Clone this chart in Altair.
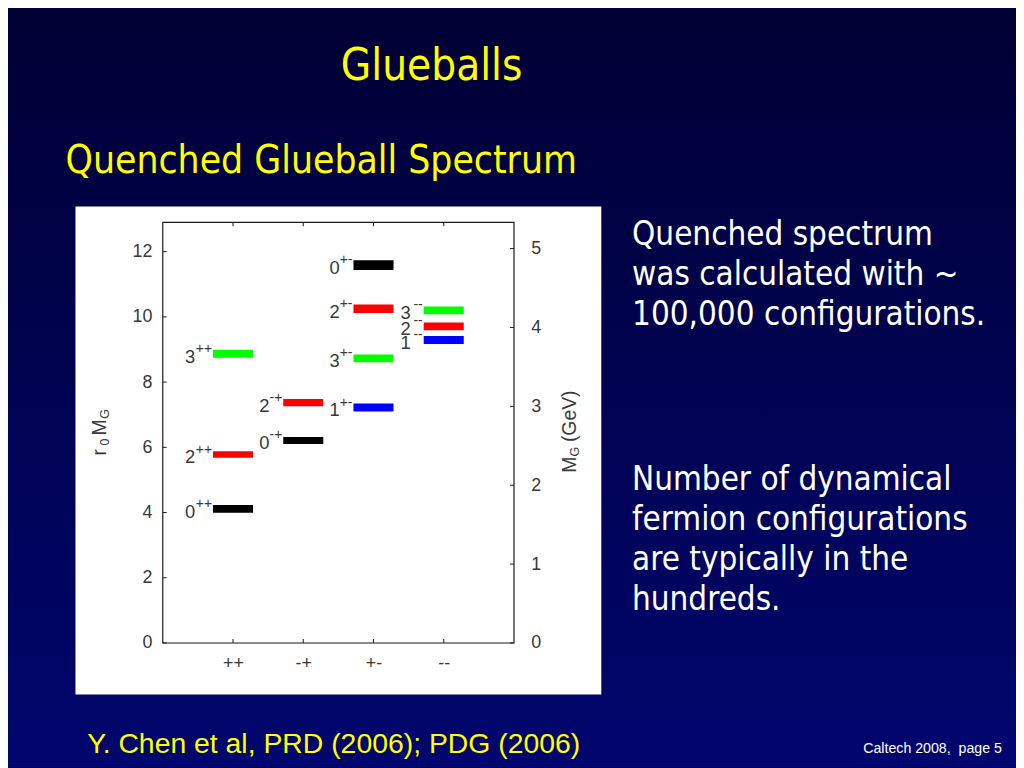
import altair as alt
import pandas as pd

# ---------------- data ----------------
categories = ["++", "-+", "+-", "--"]
state_J = ["0", "2", "3", "0", "2", "1", "3", "2", "0", "1", "2", "3"]
state_PC = ["++", "++", "++", "-+", "-+", "+-", "+-", "+-", "+-", "--", "--", "--"]
r0_mass = [4.11, 5.78, 8.87, 6.21, 7.37, 7.22, 8.73, 10.25, 11.59, 9.29, 9.71, 10.20]
r0_err = [0.12, 0.10, 0.12, 0.11, 0.11, 0.12, 0.12, 0.13, 0.15, 0.12, 0.12, 0.12]
j_values = ["0", "1", "2", "3"]
j_colors = ["#000000", "#0000ff", "#ff0000", "#00ff00"]
left_ticks = [0, 2, 4, 6, 8, 10, 12]
gev_ticks = [0, 1, 2, 3, 4, 5]
r0_domain = [0, 12.9]
gev_domain = [0, 5.333]

title_text = "Glueballs"
subtitle_text = "Quenched Glueball Spectrum"
para1 = ["Quenched spectrum", "was calculated with ~", "100,000 configurations."]
para2 = ["Number of dynamical", "fermion configurations", "are typically in the", "hundreds."]
ref_text = "Y. Chen et al, PRD (2006); PDG (2006)"
footer_text = "Caltech 2008,\u00a0 page 5"

# ---------------- layout ----------------
W, H = 354, 424            # plot area
PX, PY = 164, 221          # plot origin in page pixels
PL, PT = PX - 8, PY - 8    # padding (page has 8px margin)
TOT_W, TOT_H = 1016, 760

def px(X):
    return X - PX

def py(Y):
    return Y - PY

SLIDE_FONT = "DejaVu Sans Condensed, DejaVu Sans"
PLOT_FONT = "Liberation Sans, Arial, sans-serif"
LABEL_GRAY = "#383838"
LINE = "#1a1a1a"

dummy = pd.DataFrame({"a": [0]})

def txt(text, X, Y, size, color, font, align="left", angle=0, **kw):
    return alt.Chart(dummy).mark_text(
        text=text, align=align, baseline="alphabetic", angle=angle,
        fontSize=size, color=color, font=font, **kw
    ).encode(x=alt.value(px(X)), y=alt.value(py(Y)))

# ---------------- background ----------------
grad = alt.LinearGradient(
    gradient="linear",
    stops=[alt.GradientStop(color="#000034", offset=0),
           alt.GradientStop(color="#00066e", offset=1)],
    x1=0, x2=0, y1=0, y2=1,
)
bg = alt.Chart(dummy).mark_rect(fill=grad).encode(
    x=alt.value(-PL - 2), x2=alt.value(TOT_W - PL + 2),
    y=alt.value(-PT - 2), y2=alt.value(TOT_H - PT + 2),
)
white_box = alt.Chart(dummy).mark_rect(fill="white").encode(
    x=alt.value(px(76)), x2=alt.value(px(606)),
    y=alt.value(py(205)), y2=alt.value(py(697)),
)
frame = alt.Chart(dummy).mark_rect(filled=False, stroke=LINE, strokeWidth=1.2).encode(
    x=alt.value(0), x2=alt.value(W), y=alt.value(0), y2=alt.value(H),
)

# ---------------- scales & axes ----------------
df = pd.DataFrame({"J": state_J, "PC": state_PC, "m": r0_mass, "e": r0_err})
df["pos"] = [categories.index(p) + 1 for p in df["PC"]]
cat_pos = list(range(1, len(categories) + 1))

xs = alt.Scale(domain=[0, len(categories) + 1], nice=False, zero=False)
ys = alt.Scale(domain=r0_domain, nice=False, zero=False)
gs = alt.Scale(domain=gev_domain, nice=False, zero=False)

label_expr = "%s[datum.value - 1]" % str(categories)

x_axis = alt.Axis(
    values=cat_pos, labelExpr=label_expr, title=None, grid=False,
    domain=False, ticks=False, tickSize=0, labelFont=PLOT_FONT,
    labelFontSize=18, labelColor=LABEL_GRAY, labelPadding=26,
    labelBaseline="alphabetic", zindex=1)
y_axis = alt.Axis(
    orient="left", values=left_ticks, title=None, grid=False,
    domain=False, ticks=False, tickSize=0, labelFont=PLOT_FONT,
    labelFontSize=18, labelColor=LABEL_GRAY, labelPadding=11, zindex=1)
g_axis = alt.Axis(
    orient="right", values=gev_ticks, title=None, grid=False,
    domain=False, ticks=False, tickSize=0, labelFont=PLOT_FONT,
    labelFontSize=18, labelColor=LABEL_GRAY, labelPadding=17, zindex=1)

# ---------------- spectrum ----------------
base = alt.Chart(df).transform_calculate(
    x1="datum.pos - 0.285", x2="datum.pos + 0.285",
    lo="datum.m - datum.e", hi="datum.m + datum.e",
)

bars = base.mark_rect().encode(
    x=alt.X("x1:Q", scale=xs, axis=x_axis),
    x2="x2:Q",
    y=alt.Y("lo:Q", scale=ys, axis=y_axis),
    y2="hi:Q",
    color=alt.Color("J:N", scale=alt.Scale(domain=j_values, range=j_colors), legend=None),
)

digit_dx = {"++": 18, "-+": 14, "+-": 14, "--": 13}
digits = [
    base.transform_filter(alt.datum.PC == pc).mark_text(
        align="right", baseline="alphabetic", dx=-digit_dx[pc], dy=9,
        font=PLOT_FONT, fontSize=18.5, color=LABEL_GRAY,
    ).encode(
        x=alt.X("x1:Q", scale=xs, axis=x_axis),
        y=alt.Y("m:Q", scale=ys, axis=y_axis),
        text="J:N",
    )
    for pc in categories
]
sups = base.mark_text(
    align="right", baseline="alphabetic", dx=-1, dy=-1,
    font=PLOT_FONT, fontSize=14, color=LABEL_GRAY,
).encode(
    x=alt.X("x1:Q", scale=xs, axis=x_axis),
    y=alt.Y("m:Q", scale=ys, axis=y_axis),
    text="PC:N",
)

left_tick_marks = alt.Chart(pd.DataFrame({"t": left_ticks})).mark_rule(color=LINE).encode(
    y=alt.Y("t:Q", scale=ys, axis=y_axis), x=alt.value(0), x2=alt.value(4),
)
pos_df = pd.DataFrame({"p": cat_pos})
bottom_ticks = alt.Chart(pos_df).mark_rule(color=LINE).encode(
    x=alt.X("p:Q", scale=xs, axis=x_axis), y=alt.value(H - 4), y2=alt.value(H),
)
top_ticks = alt.Chart(pos_df).mark_rule(color=LINE).encode(
    x=alt.X("p:Q", scale=xs, axis=x_axis), y=alt.value(0), y2=alt.value(4),
)

left_group = alt.layer(bars, *digits, sups, left_tick_marks)

right_group = alt.Chart(pd.DataFrame({"g": gev_ticks})).mark_rule(color=LINE).encode(
    y=alt.Y("g:Q", scale=gs, axis=g_axis),
    x=alt.value(W - 4), x2=alt.value(W),
)

# ---------------- axis titles (with subscripts) ----------------
axis_titles = [
    txt("r", 106.5, 456, 19.5, LABEL_GRAY, PLOT_FONT, angle=270),
    txt("0", 109.5, 446, 12.5, LABEL_GRAY, PLOT_FONT, angle=270),
    txt("M", 106.5, 436, 19.5, LABEL_GRAY, PLOT_FONT, angle=270),
    txt("G", 109.5, 419, 12.5, LABEL_GRAY, PLOT_FONT, angle=270),
    txt("M", 581, 473.5, 19.5, LABEL_GRAY, PLOT_FONT, angle=270),
    txt("G", 584, 457, 12.5, LABEL_GRAY, PLOT_FONT, angle=270),
    txt("(GeV)", 581, 442.5, 19.5, LABEL_GRAY, PLOT_FONT, angle=270),
]

# ---------------- slide texts ----------------
slide_texts = [
    txt(title_text, 435, 78, 44, "#ffff00", SLIDE_FONT, align="center"),
    txt(subtitle_text, 66, 171, 39, "#ffff00", SLIDE_FONT),
    txt("\n".join(para1), 637, 243.5, 33.2, "white", SLIDE_FONT, lineBreak="\n", lineHeight=40.7),
    txt("\n".join(para2), 637, 490.5, 33.2, "white", SLIDE_FONT, lineBreak="\n", lineHeight=40.5),
    txt(ref_text, 88, 756, 28.6, "#ffff00", PLOT_FONT),
    txt(footer_text, 870, 756, 14.3, "white", PLOT_FONT),
]

chart = alt.layer(
    bg, white_box, left_group, right_group, frame, bottom_ticks, top_ticks,
    *axis_titles, *slide_texts,
).resolve_scale(y="independent").properties(
    width=W, height=H,
    padding={"left": PL, "top": PT, "right": TOT_W - PL - W, "bottom": TOT_H - PT - H},
    autosize=alt.AutoSizeParams(type="none"),
    background="#000034",
).configure_view(stroke=None)

chart.save("out.html", embed_options={"renderer": "svg", "actions": False})
